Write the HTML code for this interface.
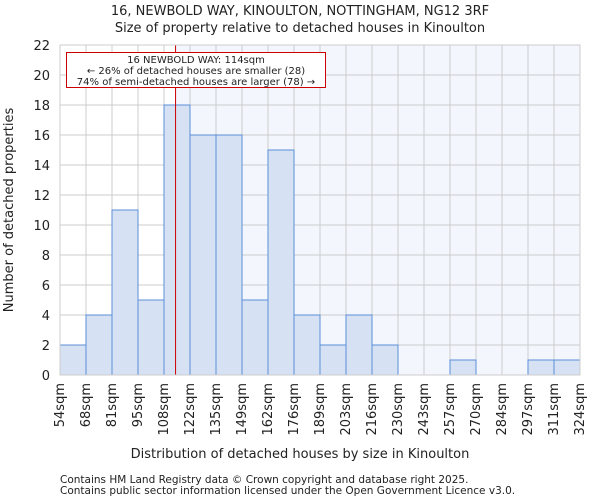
<!DOCTYPE html>
<html><head><meta charset="utf-8"><style>
body{margin:0;background:#fff;font-family:"DejaVu Sans","Liberation Sans",sans-serif}
svg text{font-family:"DejaVu Sans","Liberation Sans",sans-serif;fill:#222}
</style></head><body>
<svg id="c" width="600" height="500"></svg>
<script>
const categories=["54sqm","68sqm","81sqm","95sqm","108sqm","122sqm","135sqm","149sqm","162sqm","176sqm","189sqm","203sqm","216sqm","230sqm","243sqm","257sqm","270sqm","284sqm","297sqm","311sqm","324sqm"];
const counts=[2,4,11,5,18,16,16,5,15,4,2,4,2,0,0,1,0,0,1,1];
const yTicks=[0,2,4,6,8,10,12,14,16,18,20,22];
const edges=[54,67.5,81,94.5,108,121.5,135,148.5,162,175.5,189,202.5,216,229.5,243,256.5,270,283.5,297,310.5,324];
const propertySize=114;
const L=60,R=580,T=45,B=375,yMax=22;
const svg=document.getElementById('c');const NS='http://www.w3.org/2000/svg';
function xs(v){return L+(v-edges[0])/(edges[edges.length-1]-edges[0])*(R-L);}
function ys(v){return B-v/yMax*(B-T);}
function mk(t,a,txt){const e=document.createElementNS(NS,t);for(const k in a)e.setAttribute(k,a[k]);if(txt!==undefined)e.textContent=txt;svg.appendChild(e);return e;}
let e;
e=mk('rect',{x:xs(propertySize),y:T,width:R-xs(propertySize),height:B-T,fill:'#f3f6fd'});


yTicks.forEach(v=>{e=mk('line',{x1:L,x2:R,y1:ys(v),y2:ys(v),stroke:'#cccccc','stroke-width':1});


e=mk('text',{x:L-10,y:ys(v)+5,'text-anchor':'end','font-size':13},v);

});
edges.forEach((v,i)=>{e=mk('line',{x1:xs(v),x2:xs(v),y1:T,y2:B,stroke:'#cccccc','stroke-width':1});


const x=xs(v)+4;e=mk('text',{x:x,y:B+8,'text-anchor':'end','font-size':13,transform:`rotate(-90 ${x} ${B+8})`},categories[i]);

});
counts.forEach((c,i)=>{if(c<=0)return;e=mk('rect',{x:xs(edges[i]),y:ys(c),width:xs(edges[i+1])-xs(edges[i]),height:B-ys(c),fill:'#d6e2f4',stroke:'#5b8dd6','stroke-width':1});

});
e=mk('line',{x1:xs(propertySize),x2:xs(propertySize),y1:T,y2:B,stroke:'#cc0000','stroke-width':1});


e=mk('rect',{x:L,y:T,width:R-L,height:B-T,fill:'none',stroke:'#cccccc'});


e=mk('rect',{x:66.5,y:52.5,width:259,height:35,fill:'#fff',stroke:'#cc0000','stroke-width':1});


[["16 NEWBOLD WAY: 114sqm",63],["← 26% of detached houses are smaller (28)",74],["74% of semi-detached houses are larger (78) →",85]].forEach(a=>{e=mk('text',{x:196,y:a[1],'text-anchor':'middle','font-size':10},a[0]);

});
e=mk('text',{x:300,y:15,'text-anchor':'middle','font-size':13},"16, NEWBOLD WAY, KINOULTON, NOTTINGHAM, NG12 3RF");


e=mk('text',{x:300,y:32,'text-anchor':'middle','font-size':13},"Size of property relative to detached houses in Kinoulton");


e=mk('text',{x:300,y:458,'text-anchor':'middle','font-size':13},"Distribution of detached houses by size in Kinoulton");


e=mk('text',{x:13,y:210,'text-anchor':'middle','font-size':13,transform:'rotate(-90 13 210)'},"Number of detached properties");


e=mk('text',{x:60,y:483,'font-size':10.5,fill:'#444'},"Contains HM Land Registry data © Crown copyright and database right 2025.");


e=mk('text',{x:60,y:494,'font-size':10.5,fill:'#444'},"Contains public sector information licensed under the Open Government Licence v3.0.");


</script>
</body></html>
